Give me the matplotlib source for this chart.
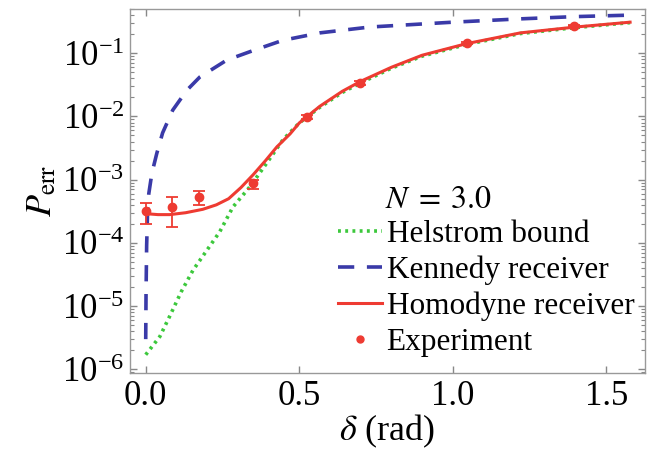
import numpy as np
import matplotlib
matplotlib.use('Agg')
import matplotlib.pyplot as plt
from matplotlib.lines import Line2D
from matplotlib.ticker import LogLocator, LogFormatterMathtext, NullFormatter

plt.rcParams['font.family'] = ['Liberation Serif', 'DejaVu Serif']
plt.rcParams['mathtext.fontset'] = 'stix'

# Helstrom bound (green dotted)
helstrom_x = [0.0, 0.046, 0.078, 0.116, 0.154, 0.198, 0.241, 0.284, 0.339, 0.393, 0.447,
              0.50, 0.567, 0.64, 0.70, 0.80, 0.90, 1.045, 1.22, 1.40, 1.577]
helstrom_y = [1.7e-6, 3.3e-6, 6.9e-6, 1.7e-5, 3.7e-5, 7.5e-5, 1.5e-4, 3.7e-4, 7.7e-4, 1.8e-3, 4.3e-3,
              7.9e-3, 0.014, 0.024, 0.034, 0.058, 0.090, 0.138, 0.205, 0.255, 0.305]

# Kennedy receiver (blue dashed)
kennedy_x = [0.0, 0.001, 0.003, 0.006, 0.01, 0.02, 0.036, 0.055, 0.088, 0.134, 0.176,
             0.264, 0.349, 0.446, 0.567, 0.73, 1.0, 1.22, 1.40, 1.57]
kennedy_y = [3.0e-6, 1.5e-5, 9e-5, 3e-4, 6e-4, 1.26e-3, 2.6e-3, 5.5e-3, 0.0126, 0.026, 0.042,
             0.078, 0.11, 0.16, 0.21, 0.26, 0.31, 0.35, 0.38, 0.40]

# Homodyne receiver (red solid)
homodyne_x = [0.0, 0.04, 0.078, 0.13, 0.186, 0.23, 0.27, 0.31, 0.35, 0.39, 0.427, 0.47,
              0.50, 0.567, 0.64, 0.70, 0.80, 0.90, 1.045, 1.22, 1.40, 1.577]
homodyne_y = [2.9e-4, 2.8e-4, 2.8e-4, 3.0e-4, 3.4e-4, 4.0e-4, 5.0e-4, 7.5e-4, 1.2e-3, 2.0e-3, 3.3e-3, 5.3e-3,
              7.9e-3, 0.0145, 0.025, 0.036, 0.060, 0.093, 0.142, 0.21, 0.26, 0.31]

# Experiment points with error bar bounds
exp_x = [0.0, 0.087, 0.175, 0.349, 0.524, 0.698, 1.047, 1.396]
exp_y = [3.2e-4, 3.7e-4, 5.4e-4, 8.9e-4, 9.8e-3, 0.034, 0.145, 0.27]
exp_lo = [2.0e-4, 1.8e-4, 4.0e-4, 7.1e-4, 9.0e-3, 0.032, 0.14, 0.265]
exp_hi = [4.3e-4, 5.4e-4, 6.6e-4, 1.0e-3, 1.07e-2, 0.036, 0.15, 0.275]

xtick_vals = [0.0, 0.5, 1.0, 1.5]
xtick_labels = ['0.0', '0.5', '1.0', '1.5']

c_green = '#3cc83c'
c_blue = '#3a3aa8'
c_red = '#ee3b32'

fig = plt.figure(figsize=(6.52, 4.53), dpi=100)
ax = fig.add_axes([0.199, 0.177, 0.790, 0.803])

ax.plot(helstrom_x, helstrom_y, color=c_green, ls=(0, (0.8, 1.2)), lw=2.6)
ax.plot(kennedy_x, kennedy_y, color=c_blue, ls=(0, (4.5, 3.5)), lw=2.6)
ax.plot(homodyne_x, homodyne_y, color=c_red, ls='-', lw=2.2)

ey = np.array(exp_y)
yerr = [ey - np.array(exp_lo), np.array(exp_hi) - ey]
ax.errorbar(exp_x, exp_y, yerr=yerr, fmt='o', color=c_red, ms=6,
            elinewidth=1.3, capsize=4.5, capthick=1.3, zorder=5)

ax.set_yscale('log')
ax.set_xlim(-0.052, 1.625)
ax.set_ylim(8.8e-7, 0.5)
ax.set_xticks(xtick_vals)
ax.set_xticklabels(xtick_labels)
ax.yaxis.set_major_locator(LogLocator(base=10, numticks=10))
ax.yaxis.set_major_formatter(LogFormatterMathtext())
ax.yaxis.set_minor_locator(LogLocator(base=10, subs=np.arange(2, 10), numticks=20))
ax.yaxis.set_minor_formatter(NullFormatter())

ax.tick_params(which='both', direction='in', top=True, right=True, colors='#888888',
               labelcolor='black', labelsize=25)
ax.tick_params(which='major', length=5, width=1)
ax.tick_params(which='minor', length=3, width=0.8)
ax.tick_params(axis='x', pad=5)
ax.tick_params(axis='y', pad=4)
for s in ax.spines.values():
    s.set_color('#999999')
    s.set_linewidth(1.0)

ax.set_xlabel(r'$\delta$ (rad)', fontsize=26, labelpad=0)
ax.set_ylabel(r'$P_{\rm err}$', fontsize=26, labelpad=2)

handles = [
    Line2D([], [], color=c_green, ls=(0, (0.8, 1.2)), lw=2.6),
    Line2D([], [], color=c_blue, ls=(0, (4.5, 3.5)), lw=2.6),
    Line2D([], [], color=c_red, ls='-', lw=2.2),
    Line2D([], [], color=c_red, ls='none', marker='o', ms=5),
]
labels = ['Helstrom bound', 'Kennedy receiver', 'Homodyne receiver', 'Experiment']
ax.legend(handles, labels, loc='upper left', bbox_to_anchor=(0.404, 0.42), frameon=False,
          fontsize=22.5, handlelength=1.4, handletextpad=0.16, labelspacing=0.21,
          borderpad=0, borderaxespad=0)
ax.text(0.495, 0.475, r'$N\;=\;3.0$', transform=ax.transAxes, fontsize=23,
        ha='left', va='center')

fig.savefig('out.png', dpi=100)
